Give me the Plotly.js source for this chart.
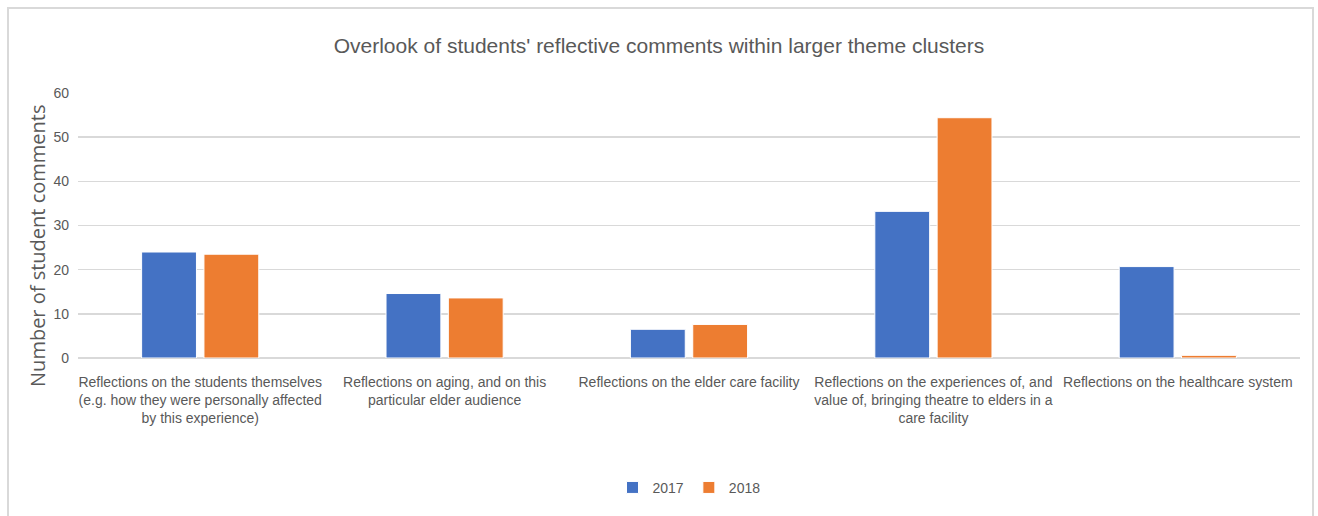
<!DOCTYPE html>
<html>
<head>
<meta charset="utf-8">
<script src="https://cdn.plot.ly/plotly-3.0.1.min.js"></script>
<style>
  html, body { margin: 0; padding: 0; background: #ffffff; }
  #wrap { position: relative; width: 1318px; height: 516px; overflow: hidden; }
  #chart { position: absolute; left: 0; top: 0; width: 1318px; height: 516px; }
  #frame { position: absolute; left: 7px; top: 7px; width: 1303px; height: 520px;
           border: 2px solid #d9d9d9; pointer-events: none; }
</style>
</head>
<body>
<div id="wrap">
  <div id="chart"></div>
  <div id="frame"></div>
</div>
<script>
const categories = [
  "Reflections on the students themselves<br>(e.g. how they were personally affected<br>by this experience)",
  "Reflections on aging, and on this<br>particular elder audience",
  "Reflections on the elder care facility",
  "Reflections on the experiences of, and<br>value of, bringing theatre to elders in a<br>care facility",
  "Reflections on the healthcare system"
];
const values2017 = [24, 14.6, 6.5, 33.2, 20.7];
const values2018 = [23.5, 13.6, 7.6, 54.4, 0.6];
const seriesNames = ["2017", "2018"];
const yTicks = [0, 10, 20, 30, 40, 50, 60];
const yTitle = 'Number of student comments';

const labelFont = "'Liberation Sans', Arial, sans-serif";

const data = [
  { type: 'bar', name: seriesNames[0], x: categories, y: values2017,
    marker: { color: '#4472C4', line: { color: '#ffffff', width: 1 } } },
  { type: 'bar', name: seriesNames[1], x: categories, y: values2018,
    marker: { color: '#ED7D31', line: { color: '#ffffff', width: 1 } } }
];

const layout = {
  width: 1318, height: 516,
  margin: { l: 78, r: 18, t: 93, b: 158 },
  paper_bgcolor: '#ffffff', plot_bgcolor: '#ffffff',
  barmode: 'group', bargap: 0.49, bargroupgap: 0.12,
  title: { text: "Overlook of students' reflective comments within larger theme clusters",
           font: { family: labelFont, size: 21, color: '#595959' },
           x: 0.5, xanchor: 'center', y: 0.912, yanchor: 'middle' },
  xaxis: { type: 'category', showgrid: false, zeroline: false, showline: false, ticks: '',
           tickangle: 0, ticklabelstandoff: 14,
           tickfont: { family: labelFont, size: 14, color: '#595959' }, automargin: false },
  yaxis: { range: [0, 60], tickvals: yTicks, ticktext: yTicks.map(String),
           showgrid: true, gridcolor: '#d9d9d9', gridwidth: 1.5,
           zeroline: true, zerolinecolor: '#d9d9d9', zerolinewidth: 1.5, showline: false,
           ticks: '', ticklabelstandoff: 8,
           tickfont: { family: labelFont, size: 14, color: '#595959' },
           automargin: false },
  annotations: [
    { text: yTitle, xref: 'paper', yref: 'paper', x: -0.0327, y: 0.423,
      xanchor: 'center', yanchor: 'middle', textangle: -90, showarrow: false,
      font: { family: "'Open Sans', sans-serif", size: 20, color: '#595959' } }
  ],
  showlegend: true,
  legend: { orientation: 'h', x: 0.5, xanchor: 'center', y: -0.49, yanchor: 'middle',
            font: { family: labelFont, size: 14, color: '#595959' },
            itemwidth: 30, traceorder: 'normal' },
  hovermode: false
};

Plotly.newPlot('chart', data, layout, { displayModeBar: false, staticPlot: true });
</script>
</body>
</html>
